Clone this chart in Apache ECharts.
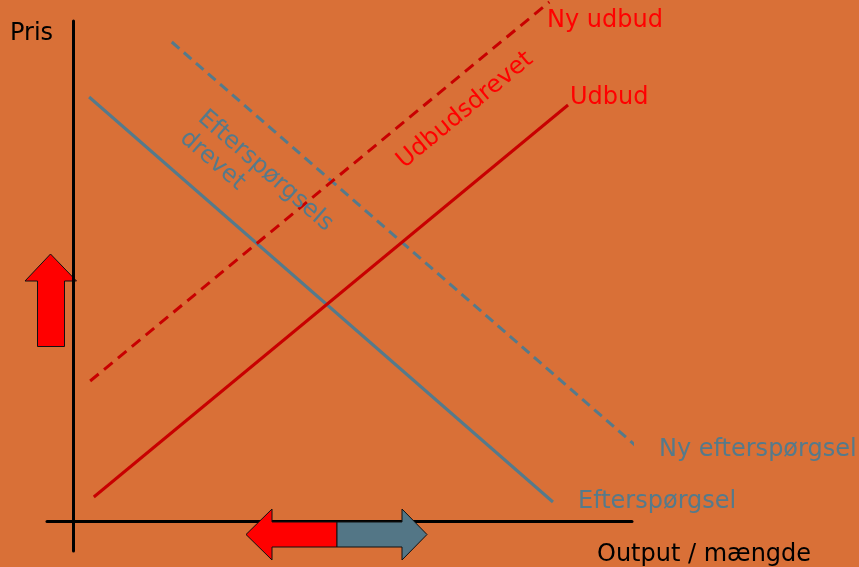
<!DOCTYPE html>
<html><head><meta charset="utf-8">
<script src="https://cdn.jsdelivr.net/npm/echarts@6/dist/echarts.min.js"></script>
<style>html,body{margin:0;padding:0;background:#D97037}#c{width:859px;height:567px}</style>
</head><body><div id="c"></div>
<script>
// Data (x = output/quantity units, y = price units)
const demand     = [[3.1, 84.8], [92.3, 3.8]];
const newDemand  = [[19.0, 95.8], [108.5, 14.8]];
const supply     = [[4.0, 4.8], [95.2, 83.2]];
const newSupply  = [[3.3, 28.0], [91.6, 103.8]];
const seriesNames = ['Efterspørgsel', 'Ny efterspørgsel', 'Udbud', 'Ny udbud'];
const axisNames = ['Output / mængde', 'Pris'];
const shiftLabels = ['Udbudsdrevet', 'Efterspørgsels', 'drevet'];

const FONT = 'DejaVu Sans';
const BLUE = '#557A8B';
const DRED = '#C80000';
const RED = '#FF0000';

const chart = echarts.init(document.getElementById('c'), null, {renderer: 'canvas'});

function txt(t, x, y, color, size, extra) {
  return Object.assign({
    type: 'text', x: x, y: y, z: 100,
    style: {text: t, fill: color, font: size + 'px "' + FONT + '"', textAlign: 'left', textVerticalAlign: 'middle'}
  }, extra || {});
}
function poly(points, fill, z) {
  return {type: 'polygon', z: z, shape: {points: points}, style: {fill: fill, stroke: '#111', lineWidth: 1}};
}

chart.setOption({
  backgroundColor: '#D97037',
  animation: false,
  grid: {left: 47, right: 227, top: 21, bottom: 16, containLabel: false},
  xAxis: {type: 'value', min: -5, max: 107.5,
    axisLine: {show: true, onZero: true, lineStyle: {color: '#000', width: 3}},
    axisTick: {show: false}, axisLabel: {show: false}, splitLine: {show: false}},
  yAxis: {type: 'value', min: -6, max: 100,
    axisLine: {show: true, onZero: true, lineStyle: {color: '#000', width: 3}},
    axisTick: {show: false}, axisLabel: {show: false}, splitLine: {show: false}},
  series: [
    {name: seriesNames[0], type: 'line', data: demand, showSymbol: false, clip: false,
     lineStyle: {color: BLUE, width: 3}},
    {name: seriesNames[1], type: 'line', data: newDemand, showSymbol: false, clip: false,
     lineStyle: {color: BLUE, width: 3, type: [10, 6]}},
    {name: seriesNames[2], type: 'line', data: supply, showSymbol: false, clip: false,
     lineStyle: {color: DRED, width: 3}},
    {name: seriesNames[3], type: 'line', data: newSupply, showSymbol: false, clip: false,
     lineStyle: {color: DRED, width: 3, type: [11, 7]}}
  ],
  graphic: [
    // up arrow (price)
    poly([[50.5,254],[25,281],[37.5,281],[37.5,346.5],[64.5,346.5],[64.5,281],[76.5,281]], RED, -1),
    // left arrow (red) and right arrow (blue) on the quantity axis
    poly([[246,534.5],[272,509],[272,522],[337,522],[337,547],[272,547],[272,560]], RED, 100),
    poly([[427,534.5],[402,509],[402,522],[337,522],[337,547],[402,547],[402,560]], '#537686', 100),
    txt(axisNames[1], 10, 34, '#000', 24),
    txt(axisNames[0], 597, 555, '#000', 24),
    txt(seriesNames[3], 547, 21, RED, 24),
    txt(seriesNames[2], 570, 98, RED, 24),
    txt(seriesNames[1], 659, 450, BLUE, 24),
    txt(seriesNames[0], 578, 502, BLUE, 24),
    txt(shiftLabels[0], 400, 164, RED, 24, {rotation: 0.691}),
    txt(shiftLabels[1], 201, 115, BLUE, 24, {rotation: -0.716}),
    txt(shiftLabels[2], 183, 135, BLUE, 24, {rotation: -0.716})
  ]
});
</script></body></html>
